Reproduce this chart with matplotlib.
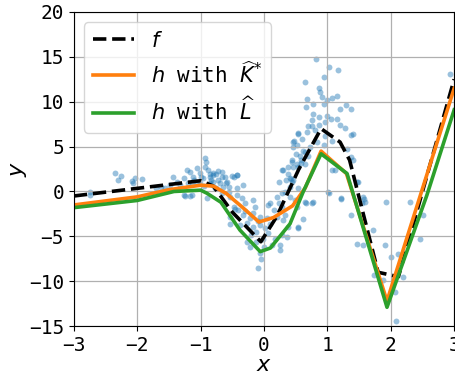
import numpy as np
import matplotlib
matplotlib.use('Agg')
import matplotlib.pyplot as plt

plt.rcParams['font.family'] = ['DejaVu Sans Mono', 'DejaVu Sans']
plt.rcParams['mathtext.fontset'] = 'dejavusans'

# true function f (knots)
f_x = [-3.0, -1.0, -0.8, -0.5, -0.05, 0.2, 0.55, 0.9, 1.2, 1.35, 1.8, 2.12, 3.0]
f_y = [-0.5, 1.2, 0.6, -2.3, -5.6, -2.8, 2.5, 7.0, 5.5, 3.5, -9.0, -9.5, 12.5]

# h with K-hat*
k_x = [-3.0, -2.0, -1.5, -1.0, -0.8, -0.6, -0.35, -0.08, 0.15, 0.45, 0.65, 0.9, 1.3, 1.94, 3.0]
k_y = [-1.5, -0.6, 0.2, 0.7, 0.6, -0.2, -1.7, -3.4, -2.9, -1.6, 0.4, 4.5, 2.0, -12.2, 11.5]

# h with L-hat
l_x = [-3.0, -2.0, -1.42, -1.0, -0.9, -0.68, -0.38, -0.06, 0.1, 0.41, 0.62, 0.9, 1.31, 1.94, 2.57, 3.0]
l_y = [-1.8, -1.0, 0.0, 0.15, -0.2, -1.2, -4.3, -6.7, -6.3, -3.6, 0.0, 4.2, 2.0, -12.9, -0.4, 9.1]

# noisy observations
pts = [
    (0.82, 14.8), (1.03, 13.9), (1.16, 13.5), (0.94, 12.7), (0.65, 12.2), (0.87, 11.5),
    (0.88, 11.1), (0.91, 10.5), (1.07, 10.4), (1.15, 10.6), (0.68, 10.3), (0.99, 10.2),
    (0.78, 9.7), (0.94, 9.7), (1.29, 9.6), (0.67, 9.4), (1.38, 9.2), (1.2, 9.2),
    (0.77, 8.6), (0.86, 8.3), (0.99, 8.4), (1.05, 8.1), (1.15, 8.1), (0.96, 7.7),
    (0.86, 7.4), (1.2, 7.4), (1.28, 7.1), (0.7, 7.3), (0.75, 7.3), (0.54, 6.4),
    (0.68, 6.6), (0.8, 6.8), (1.38, 6.3), (1.41, 6.4), (0.96, 6.2), (1.08, 5.6),
    (0.83, 5.5), (0.94, 5.2), (0.47, 5.6), (0.52, 5.2), (0.46, 5.0), (0.62, 4.5),
    (0.65, 4.4), (1.31, 4.7), (0.57, 4.0), (0.7, 4.0), (1.38, 3.8), (1.41, 3.5),
    (0.44, 3.5), (0.59, 3.5), (0.65, 3.1), (1.07, 2.4), (1.12, 2.4), (0.52, 3.1),
    (0.46, 2.7), (0.42, 1.4), (0.44, 1.1), (1.46, 1.1), (1.49, 1.1), (1.02, -0.2),
    (1.21, -0.8), (1.57, -0.8), (0.41, 0.5), (0.46, 5.5), (0.54, 6.5), (0.3, 2.4),
    (0.35, 1.3), (0.6, 5.8), (0.72, 5.0), (0.5, 4.2), (0.38, 2.0), (0.76, 8.0),
    (-0.85, 2.0), (-0.80, 1.83), (-0.75, 2.0), (-0.67, 2.2), (-0.83, 1.27), (-0.72, 1.27),
    (-0.62, 1.64), (-0.51, 1.72), (-0.43, 1.83), (-0.77, 0.34), (-0.64, 0.53), (-0.56, -0.03),
    (-0.54, -0.59), (-0.33, 0.71), (-0.43, -0.4), (-0.35, -0.78), (-0.3, -1.33), (-0.17, -0.96),
    (-0.14, -1.7), (-0.41, -2.08), (-0.48, -1.7), (-0.33, -2.63), (-0.22, -3.0), (-0.27, -3.56),
    (-0.17, -3.93), (-0.06, -3.75), (-0.12, -4.5), (0.015, -4.12), (0.04, -3.0), (0.07, -1.52),
    (0.09, -1.33), (0.15, -2.08), (0.2, -2.82), (0.07, -4.68), (-0.01, -5.24), (-0.12, -5.6),
    (-0.27, -5.6), (-0.22, -6.17), (-0.06, -6.9), (-0.04, -7.47), (-0.09, -8.47), (0.12, -5.98),
    (0.25, -5.98), (0.25, -6.54), (0.17, -5.24), (0.28, -4.86), (0.36, -5.05), (0.38, -3.93),
    (0.33, -2.63), (0.28, -1.7), (0.23, -1.33), (0.2, -0.59), (0.28, -0.22), (0.33, -0.03),
    (0.41, -0.59), (0.49, -0.96), (0.52, -1.7), (0.54, -3.93), (0.23, 1.08), (0.28, 2.38),
    (0.38, 2.76), (0.41, 1.46), (0.46, 1.27), (0.54, 2.76), (0.59, 3.13), (0.54, 0.34),
    (0.67, -1.33), (0.75, -1.33), (0.44, 3.3), (-0.46, -1.9), (-0.54, -2.82), (-0.38, -3.75),
    (-0.17, -2.45), (-0.06, -2.82), (-0.54, -3.6), (-0.1, -3.3), (0.1, -3.6), (-0.2, -4.8),
    (0.0, -6.2), (-0.3, -2.2), (0.3, -3.2), (-0.6, 0.9), (-0.7, 1.0),
    (-2.35, 2.01), (-2.25, 1.75), (-2.30, 1.27), (-2.09, 1.16), (-2.04, 1.45), (-1.93, 1.38),
    (-2.06, 1.0), (-1.43, 1.64), (-1.38, 1.08), (-1.27, 1.45), (-1.22, 2.38), (-1.17, 2.12),
    (-1.12, 1.64), (-1.06, 2.57), (-1.01, 2.01), (-0.93, 3.68), (-0.91, 3.31), (-0.93, 2.75),
    (-0.88, 2.38), (-0.85, 1.64), (-0.8, 2.01), (-0.72, 2.27), (-0.67, 1.64), (-0.59, 1.08),
    (-0.48, 1.64), (-0.43, 1.83), (-0.43, 0.34), (-1.33, 0.71), (-1.48, 0.71), (-1.56, 0.34),
    (-1.25, -0.48), (-1.17, -0.48), (-1.62, 0.52), (-1.7, 0.34), (-1.01, 0.89), (-0.96, 1.45),
    (-1.06, 1.08), (-1.14, 0.89), (-0.67, -0.22), (-0.75, 0.34), (-2.75, -0.03), (-0.56, 0.52),
    (-0.85, 0.89), (-0.8, 1.08), (-2.75, -0.4), (-1.27, -0.4), (-1.14, -0.4), (-0.9, -0.77),
    (-1.0, 1.6), (-0.95, 0.6), (-1.1, 1.3), (-1.2, 0.9),
    (0.77, -1.15), (1.01, -0.03), (1.22, -0.78), (1.56, -0.59), (1.59, -1.15), (1.93, -1.15),
    (2.3, -1.15), (2.51, -2.64), (2.46, -5.24), (1.46, -5.8), (1.56, -6.0), (1.72, -4.3),
    (1.91, -5.98), (2.01, -7.28), (2.12, -6.91), (2.2, -9.51), (1.88, -9.88), (2.06, -11.19),
    (2.09, -14.46), (1.73, -9.33), (0.54, -4.12), (0.62, -3.01), (0.65, -1.15), (1.38, -2.63),
    (1.54, -1.33), (2.94, 13.05),
]
obs_x = [p[0] for p in pts]
obs_y = [p[1] for p in pts]

fig = plt.figure(figsize=(4.56, 3.74), dpi=100)
ax = fig.add_axes([0.162, 0.128, 0.834, 0.84])

ax.scatter(obs_x, obs_y, s=18, color='tab:blue', alpha=0.45, linewidths=0)
ax.plot(f_x, f_y, 'k--', lw=2.6, label='$f$', solid_joinstyle='round', dash_joinstyle='round')
ax.plot(k_x, k_y, color='tab:orange', lw=2.6, label=r'$h$ with $\widehat{K}^{*}$',
        solid_joinstyle='round')
ax.plot(l_x, l_y, color='tab:green', lw=2.6, label=r'$h$ with $\widehat{L}$',
        solid_joinstyle='round')

ax.set_xlim(-3, 3)
ax.set_ylim(-15, 20)
ax.set_xticks(np.arange(-3, 4, 1))
ax.set_yticks(np.arange(-15, 25, 5))
ax.tick_params(labelsize=14)
ax.grid(True, color='#b0b0b0', lw=0.9)
ax.set_xlabel('$x$', fontsize=16, labelpad=0)
ax.set_ylabel('$y$', fontsize=16, labelpad=0)
ax.legend(loc='upper left', fontsize=15, handlelength=2.0)

fig.savefig('out.png', dpi=100)
